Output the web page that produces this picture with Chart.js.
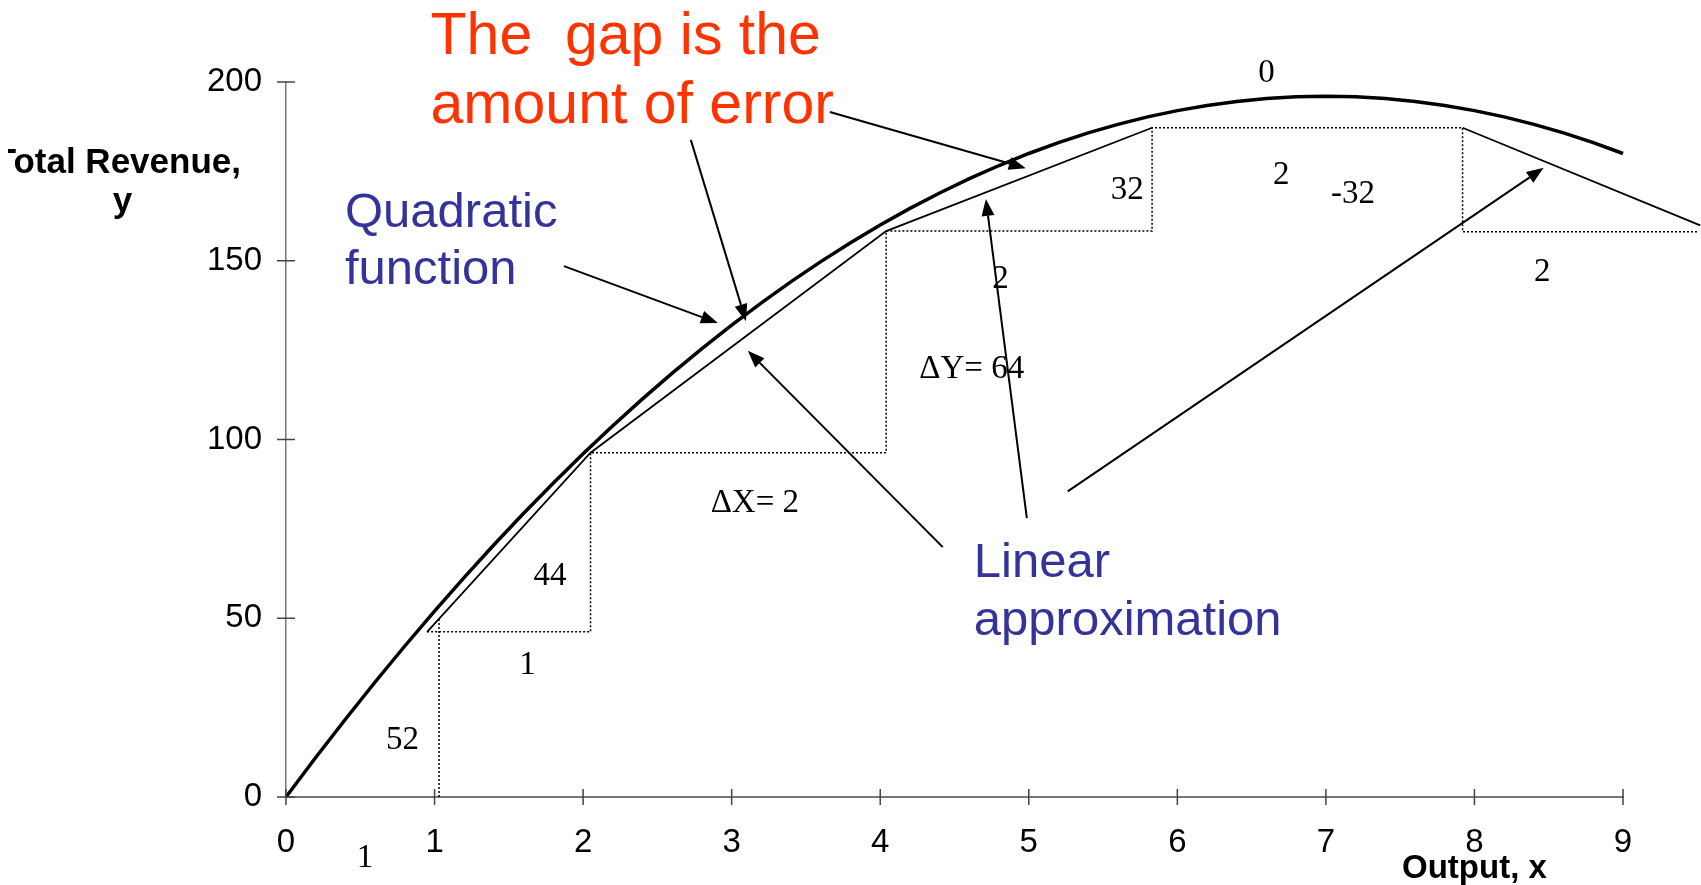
<!DOCTYPE html>
<html>
<head>
<meta charset="utf-8">
<script src="https://cdn.jsdelivr.net/npm/chart.js@4.4.0/dist/chart.umd.min.js"></script>
<style>
  html, body { margin: 0; padding: 0; background: #fff; }
</style>
</head>
<body>
<canvas id="chart" width="1701" height="885"></canvas>
<script>
// Quadratic total revenue curve
const outputX = [0, 0.2, 0.4, 0.6, 0.8, 1, 1.2, 1.4, 1.6, 1.8, 2, 2.2, 2.4, 2.6, 2.8, 3, 3.2, 3.4, 3.6, 3.8,
  4, 4.2, 4.4, 4.6, 4.8, 5, 5.2, 5.4, 5.6, 5.8, 6, 6.2, 6.4, 6.6, 6.8, 7, 7.2, 7.4, 7.6, 7.8,
  8, 8.2, 8.4, 8.6, 8.8, 9];
const revenueY = [0, 11.04, 21.76, 32.16, 42.24, 52, 61.44, 70.56, 79.36, 87.84, 96, 103.84, 111.36, 118.56, 125.44, 132, 138.24, 144.16, 149.76, 155.04,
  160, 164.64, 168.96, 172.96, 176.64, 180, 183.04, 185.76, 188.16, 190.24, 192, 193.44, 194.56, 195.36, 195.84, 196, 195.84, 195.36, 194.56, 193.44,
  192, 190.24, 188.16, 185.76, 183.04, 180];

// Linear approximation (null = break in the line)
const linearX = [0.95, 2.05, 4.04, 5.83, 6.9, 7.92, 9.52];
const linearY = [46.2, 96.3, 158.3, 187.2, null, 187.2, 159.9];

// Dotted delta steps
const stepX = [1.03, 1.03, 1.0, 0.95, 2.05, 2.05, 4.04, 4.04, 5.83, 5.83, 7.92, 7.92, 9.5];
const stepY = [0, 49.8, null, 46.2, 46.2, 96.3, 96.3, 158.3, 158.3, 187.2, 187.2, 158.1, 158.1];

const yTicks = [0, 50, 100, 150, 200];
const xTicks = [0, 1, 2, 3, 4, 5, 6, 7, 8, 9];

const toPoints = (xs, ys) => xs.map((x, i) => ({ x: x, y: ys[i] }));

const SANS = '"Liberation Sans", Arial, sans-serif';
const SERIF = '"Liberation Serif", "Times New Roman", serif';
const RED = '#ff3300';
const BLUE = '#333399';

// annotation texts, placed in data units
const labels = [
  { text: 'The  gap is the', x: 0.973, y: 207.9, font: '59px ' + SANS, color: RED, align: 'left' },
  { text: 'amount of error', x: 0.973, y: 188.6, font: '59px ' + SANS, color: RED, align: 'left' },
  { text: 'Quadratic', x: 0.397, y: 159.4, font: '49px ' + SANS, color: BLUE, align: 'left' },
  { text: 'function', x: 0.397, y: 143.5, font: '49px ' + SANS, color: BLUE, align: 'left' },
  { text: 'Linear', x: 4.63, y: 61.5, font: '49px ' + SANS, color: BLUE, align: 'left' },
  { text: 'approximation', x: 4.63, y: 45.4, font: '49px ' + SANS, color: BLUE, align: 'left' },
  { text: '0', x: 6.601, y: 200.0, font: '33px ' + SERIF, color: '#000', align: 'center' },
  { text: '2', x: 6.70, y: 171.5, font: '33px ' + SERIF, color: '#000', align: 'center' },
  { text: '-32', x: 7.182, y: 166.2, font: '33px ' + SERIF, color: '#000', align: 'center' },
  { text: '32', x: 5.663, y: 167.2, font: '33px ' + SERIF, color: '#000', align: 'center' },
  { text: '2', x: 4.81, y: 142.3, font: '33px ' + SERIF, color: '#000', align: 'center' },
  { text: '2', x: 8.456, y: 144.4, font: '33px ' + SERIF, color: '#000', align: 'center' },
  { text: '\u0394Y= 64', x: 4.616, y: 117.1, font: '33px ' + SERIF, color: '#000', align: 'center' },
  { text: '\u0394X= 2', x: 3.156, y: 79.7, font: '33px ' + SERIF, color: '#000', align: 'center' },
  { text: '44', x: 1.777, y: 59.3, font: '33px ' + SERIF, color: '#000', align: 'center' },
  { text: '1', x: 1.625, y: 34.3, font: '33px ' + SERIF, color: '#000', align: 'center' },
  { text: '52', x: 0.784, y: 13.5, font: '33px ' + SERIF, color: '#000', align: 'center' },
  { text: '1', x: 0.532, y: -19.6, font: '33px ' + SERIF, color: '#000', align: 'center' },
  // the y title is cut off at the left edge of its box in the original
  { text: 'Total Revenue,', x: -0.303, y: 174.6, font: 'bold 35px ' + SANS, color: '#000', align: 'right', clipLeft: 8 },
  { text: 'y', x: -1.1, y: 163.6, font: 'bold 35px ' + SANS, color: '#000', align: 'center' },
  { text: 'Output, x', x: 8.0, y: -22.75, font: 'bold 33px ' + SANS, color: '#000', align: 'center' }
];

// arrows: from -> to (head at "to"), data units
const arrows = [
  { x1: 3.661, y1: 191.6, x2: 4.98, y2: 175.9 },
  { x1: 2.725, y1: 183.8, x2: 3.096, y2: 133.1 },
  { x1: 1.871, y1: 148.5, x2: 2.907, y2: 132.6 },
  { x1: 4.421, y1: 69.9, x2: 3.109, y2: 124.8 },
  { x1: 4.987, y1: 78.0, x2: 4.711, y2: 167.3 },
  { x1: 5.262, y1: 85.5, x2: 8.466, y2: 176.0 }
];

const overlayPlugin = {
  id: 'overlay',
  afterDatasetsDraw(chart) {
    const ctx = chart.ctx;
    const sx = chart.scales.x, sy = chart.scales.y;
    const x0 = sx.getPixelForValue(0), y0 = sy.getPixelForValue(0);
    ctx.save();

    // tick marks crossing the axes
    ctx.strokeStyle = '#444';
    ctx.lineWidth = 1.5;
    ctx.beginPath();
    yTicks.forEach(v => {
      const py = sy.getPixelForValue(v);
      ctx.moveTo(x0 - 9, py);
      ctx.lineTo(x0 + 9, py);
    });
    xTicks.forEach(v => {
      const px = sx.getPixelForValue(v);
      ctx.moveTo(px, y0 - 8);
      ctx.lineTo(px, y0 + 8);
    });
    ctx.stroke();

    // arrows
    ctx.strokeStyle = '#000';
    ctx.fillStyle = '#000';
    ctx.lineWidth = 2;
    arrows.forEach(a => {
      const px1 = sx.getPixelForValue(a.x1), py1 = sy.getPixelForValue(a.y1);
      const px2 = sx.getPixelForValue(a.x2), py2 = sy.getPixelForValue(a.y2);
      const ang = Math.atan2(py2 - py1, px2 - px1);
      const len = 17, half = 6.5;
      const bx = px2 - len * Math.cos(ang), by = py2 - len * Math.sin(ang);
      ctx.beginPath();
      ctx.moveTo(px1, py1);
      ctx.lineTo(bx, by);
      ctx.stroke();
      ctx.beginPath();
      ctx.moveTo(px2, py2);
      ctx.lineTo(bx + half * Math.sin(ang), by - half * Math.cos(ang));
      ctx.lineTo(bx - half * Math.sin(ang), by + half * Math.cos(ang));
      ctx.closePath();
      ctx.fill();
    });

    // texts
    ctx.textBaseline = 'alphabetic';
    labels.forEach(l => {
      ctx.save();
      if (l.clipLeft !== undefined) {
        ctx.beginPath();
        ctx.rect(l.clipLeft, 0, chart.width, chart.height);
        ctx.clip();
      }
      ctx.font = l.font;
      ctx.fillStyle = l.color;
      ctx.textAlign = l.align;
      ctx.fillText(l.text, sx.getPixelForValue(l.x), sy.getPixelForValue(l.y));
      ctx.restore();
    });
    ctx.restore();
  }
};

new Chart(document.getElementById('chart'), {
  type: 'scatter',
  data: {
    datasets: [
      {
        label: 'Quadratic function',
        data: toPoints(outputX, revenueY),
        showLine: true,
        borderColor: '#000',
        borderWidth: 3.5,
        pointRadius: 0,
        tension: 0,
        clip: false
      },
      {
        label: 'Linear approximation',
        data: toPoints(linearX, linearY),
        showLine: true,
        spanGaps: false,
        borderColor: '#000',
        borderWidth: 1.8,
        pointRadius: 0,
        tension: 0,
        clip: false
      },
      {
        label: 'Steps',
        data: toPoints(stepX, stepY),
        showLine: true,
        spanGaps: false,
        borderColor: '#000',
        borderWidth: 1.5,
        borderDash: [2, 2],
        pointRadius: 0,
        tension: 0,
        clip: false
      }
    ]
  },
  options: {
    responsive: false,
    animation: false,
    devicePixelRatio: 1,
    layout: { padding: { top: 82, right: 78, left: 0, bottom: 0 } },
    plugins: {
      legend: { display: false },
      tooltip: { enabled: false }
    },
    scales: {
      x: {
        type: 'linear',
        min: 0,
        max: 9,
        afterFit: s => { s.height = 88; },
        grid: { display: false, drawTicks: false },
        border: { display: true, color: '#777', width: 2 },
        ticks: {
          stepSize: 1,
          padding: 26,
          color: '#000',
          font: { family: 'Liberation Sans', size: 33 }
        }
      },
      y: {
        type: 'linear',
        min: 0,
        max: 200,
        afterFit: s => { s.width = 286; },
        grid: { display: false, drawTicks: false },
        border: { display: true, color: '#777', width: 1.5 },
        ticks: {
          stepSize: 50,
          padding: 24,
          color: '#000',
          font: { family: 'Liberation Sans', size: 33 }
        }
      }
    }
  },
  plugins: [overlayPlugin]
});
</script>
</body>
</html>
